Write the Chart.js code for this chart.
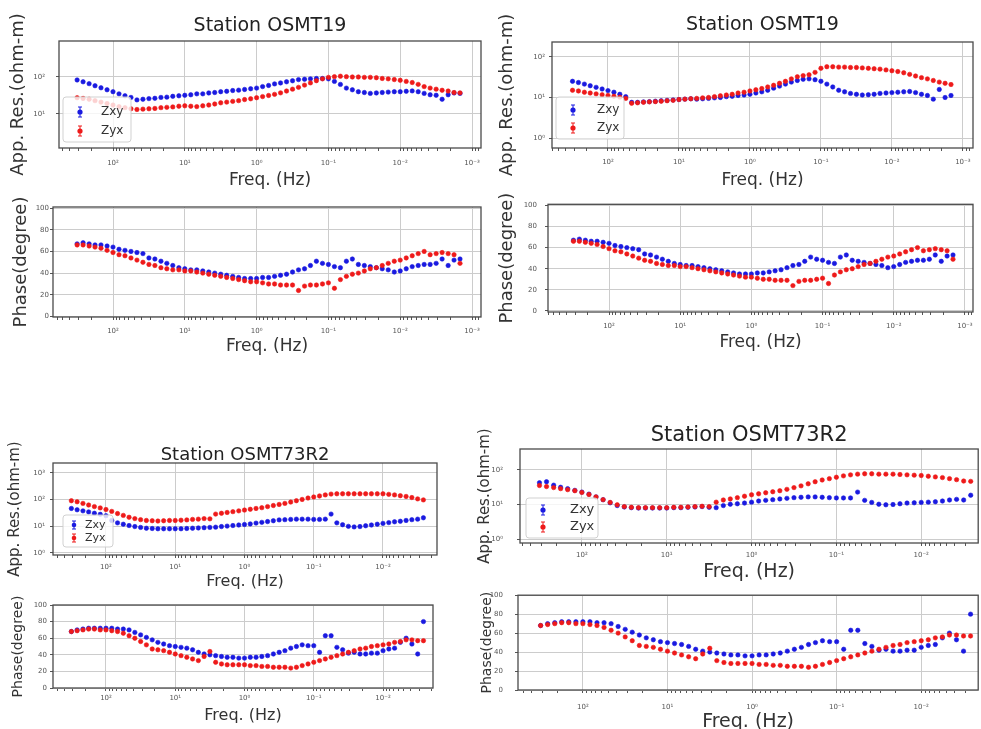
<!DOCTYPE html>
<html><head><meta charset="utf-8">
<script src="https://cdn.jsdelivr.net/npm/chart.js@4.4.1/dist/chart.umd.min.js"></script>
<style>
html,body{margin:0;padding:0;background:#fff;overflow:hidden;width:981px;height:729px;position:relative;}
canvas{position:absolute;}
</style></head><body>
<script>
// ---------------- DATA ----------------
const stationNames = ['Station OSMT19', 'Station OSMT73R2'];
const seriesNames = ['Zxy', 'Zyx'];

const freqTicks = [1000, 100, 10, 1, 0.1, 0.01, 0.001];
const freqTickLabels = ['10³', '10²', '10¹', '10⁰', '10⁻¹', '10⁻²', '10⁻³'];
const resTicks = [1, 10, 100, 1000];
const resTickLabels = ['10⁰', '10¹', '10²', '10³'];
const phaseTicks = [0, 20, 40, 60, 80, 100];
const phaseTickLabels = ['0', '20', '40', '60', '80', '100'];

// Frequencies (Hz)
const freqOSMT19 = [316, 261, 215, 178, 147, 121,
  100, 82.5, 68.1, 56.2, 46.4, 38.3, 31.6, 26.1, 21.5, 17.8, 14.7, 12.1,
  10, 8.25, 6.81, 5.62, 4.64, 3.83, 3.16, 2.61, 2.15, 1.78, 1.47, 1.21,
  1, 0.825, 0.681, 0.562, 0.464, 0.383, 0.316, 0.261, 0.215, 0.178, 0.147, 0.121,
  0.1, 0.0825, 0.0681, 0.0562, 0.0464, 0.0383, 0.0316, 0.0261, 0.0215, 0.0178, 0.0147, 0.0121,
  0.01, 0.00825, 0.00681, 0.00562, 0.00464, 0.00383, 0.00316, 0.00261, 0.00215, 0.00178, 0.00147];
const freqOSMT73R2 = [316, 261, 215, 178, 147, 121,
  100, 82.5, 68.1, 56.2, 46.4, 38.3, 31.6, 26.1, 21.5, 17.8, 14.7, 12.1,
  10, 8.25, 6.81, 5.62, 4.64, 3.83, 3.16, 2.61, 2.15, 1.78, 1.47, 1.21,
  1, 0.825, 0.681, 0.562, 0.464, 0.383, 0.316, 0.261, 0.215, 0.178, 0.147, 0.121,
  0.1, 0.0825, 0.0681, 0.0562, 0.0464, 0.0383, 0.0316, 0.0261, 0.0215, 0.0178, 0.0147, 0.0121,
  0.01, 0.00825, 0.00681, 0.00562, 0.00464, 0.00383, 0.00316, 0.00261];

// OSMT19 apparent resistivity, left figure (ohm-m)
const rhoXY_19a = [83, 74, 66, 58, 51, 45, 40, 35, 31, 28, 24,
  25, 26, 26.5, 28, 28.5, 30, 31, 32, 33, 35, 35, 37, 38, 40, 41, 43, 44, 46, 48, 50,
  55, 59, 65, 69, 74, 79, 85, 87, 89, 91, 91, 89, 76, 63, 50, 45, 40, 38, 36, 37,
  38, 39, 40, 40, 41, 42, 40, 36, 33, 32, 25, 33, 37, 36];
const rhoYX_19a = [27.5, 26.3, 25.1, 22.9, 20.9, 19.1, 17.4, 15.8, 14.8, 13.8,
  13.2, 13.5, 13.8, 14.1, 14.8, 15.1, 15.5, 16.2, 16.6, 16.2,
  15.8, 16.6, 17.4, 18.6, 20, 20.9, 21.9, 22.9, 24.5, 25.7,
  27.5, 29.5, 31.6, 33.9, 37.2, 41.7, 46.8, 52.5, 60.3, 69.2,
  79.4, 89.1, 97.7, 102, 105, 102, 100, 100, 97.7, 97.7,
  95.5, 91.2, 89.1, 85.1, 81.3, 75.9, 70.8, 63.1, 55, 50.1,
  46.8, 43.7, 41.7, 38, 37.2];
// OSMT19 apparent resistivity, right figure (ohm-m)
const rhoXY_19b = [25.1, 23.4, 21.4, 19.5, 17.8, 16.2, 14.8, 13.5, 12.0, 10.5,
  7.6, 7.6, 7.8, 7.9, 8.1, 8.3, 8.5, 8.7, 8.9, 9.1,
  9.3, 9.1, 9.3, 9.5, 9.8, 10, 10.5, 10.7, 11.2, 11.5,
  12.0, 12.9, 13.8, 15.1, 17.0, 19.1, 21.4, 24.0, 26.3, 28.2,
  28.8, 27.5, 25.1, 21.4, 18.2, 15.1, 13.8, 12.6, 12.0, 11.5,
  11.7, 12.0, 12.6, 12.9, 13.2, 13.5, 13.8, 14.1, 13.2, 12.0,
  11.2, 9.1, 15.8, 10, 11.2];
const rhoYX_19b = [15.1, 14.5, 13.5, 12.9, 12.3, 11.7, 11.2, 10.7, 10.2, 9.5,
  7.2, 7.4, 7.6, 7.8, 7.9, 8.1, 8.3, 8.5, 8.9, 9.1,
  9.3, 9.5, 9.8, 10, 10.5, 11.0, 11.5, 12.0, 12.9, 13.5,
  14.5, 15.5, 16.6, 18.2, 20, 22.4, 25.1, 28.8, 32.4, 34.7,
  36.3, 41.7, 52.5, 57.5, 57.5, 56.2, 56.2, 55.0, 55.0, 53.7,
  52.5, 51.3, 50.1, 47.9, 45.7, 43.7, 40.7, 37.2, 33.9, 30.9,
  28.8, 26.3, 24.0, 22.4, 20.9];
// OSMT19 phase (degree)
const phiXY_19 = [67, 68, 67, 66, 66, 65, 64, 62, 61, 60,
  59, 58, 54, 53, 51, 49, 47, 45, 44, 43,
  43, 42, 41, 40, 39, 38, 37, 36, 35, 35,
  35, 36, 36, 37, 38, 39, 41, 43, 44, 47,
  51, 49, 48, 46, 45, 51, 53, 48, 47, 46,
  45, 44, 43, 41, 42, 44, 46, 47, 48, 48,
  49, 53, 47, 52, 53];
const phiYX_19 = [66, 66, 65, 64, 63, 61, 59, 57, 56, 54,
  52, 50, 48, 47, 45, 44, 43, 43, 42, 42,
  41, 40, 39, 38, 37, 36, 35, 34, 33, 32,
  32, 31, 30, 30, 29, 29, 29, 24, 28, 29,
  29, 30, 31, 26, 34, 37, 39, 40, 42, 44,
  45, 47, 49, 51, 52, 54, 56, 58, 60, 57,
  58, 59, 58, 57, 49];

// OSMT73R2 apparent resistivity, left figure (ohm-m)
const rhoXY_73a = [46.8, 41.7, 38.0, 34.7, 30.9, 28.2, 25.1, 16.6, 13.5, 12.0,
  10.7, 9.8, 9.1, 8.5, 8.3, 8.1, 8.1, 8.1, 8.1, 8.1,
  8.3, 8.5, 8.7, 8.9, 9.1, 9.3, 9.8, 10.2, 10.7, 11.2,
  11.7, 12.3, 13.2, 14.1, 15.1, 16.2, 17.4, 17.8, 18.2, 18.6,
  18.6, 18.6, 18.2, 18.2, 18.6, 28.8, 13.5, 11.5, 10, 9.5,
  9.8, 10.5, 11.2, 12.0, 12.9, 13.8, 14.8, 15.5, 16.6, 17.8,
  18.6, 20.9];
const rhoYX_73a = [91.2, 83.2, 72.4, 63.1, 55.0, 49.0, 42.7, 36.3, 30.2, 25.7,
  21.9, 19.5, 17.8, 16.6, 16.2, 15.8, 16.2, 16.6, 16.6, 17.0,
  17.4, 18.2, 18.6, 19.5, 19.1, 28.8, 30.9, 33.1, 35.5, 38.0,
  40.7, 43.7, 46.8, 50.1, 55.0, 60.3, 66.1, 72.4, 81.3, 91.2,
  102, 115, 126, 138, 151, 162, 166, 166, 166, 166,
  166, 166, 166, 166, 166, 158, 151, 141, 132, 120,
  107, 98];
// OSMT73R2 apparent resistivity, right figure (ohm-m)
const rhoXY_73b = [42.7, 45.7, 36.3, 31.6, 28.8, 25.7, 22.9, 20.0, 16.6, 13.8,
  11.2, 9.3, 8.5, 8.1, 7.9, 7.9, 7.9, 7.9, 7.9, 8.1,
  8.1, 8.3, 8.5, 8.7, 8.3, 8.1, 9.3, 10.2, 10.5, 11.0,
  11.7, 12.6, 13.2, 13.8, 14.5, 15.1, 15.8, 16.2, 16.6, 16.6,
  16.2, 15.8, 15.5, 15.5, 15.5, 22.9, 13.2, 11.5, 10.2, 9.8,
  10, 10.5, 11.0, 11.2, 11.5, 11.7, 12.0, 12.6, 13.5, 14.1,
  13.5, 18.6];
const rhoYX_73b = [35.5, 33.1, 30.9, 28.8, 26.9, 25.1, 22.4, 19.5, 16.6, 13.8,
  11.5, 9.8, 8.7, 8.3, 8.1, 8.1, 8.1, 8.1, 8.1, 8.3,
  8.3, 8.5, 8.7, 8.9, 8.7, 11.7, 13.5, 14.5, 15.8, 17.4,
  19.1, 20.4, 21.9, 23.4, 25.1, 27.5, 30.9, 34.7, 39.8, 45.7,
  51.3, 56.2, 61.7, 67.6, 72.4, 75.9, 77.6, 77.6, 75.9, 75.9,
  75.9, 74.1, 72.4, 70.8, 69.2, 66.1, 63.1, 60.3, 56.2, 52.5,
  47.9, 46.8];
// OSMT73R2 phase (degree)
const phiXY_73 = [68, 70, 71, 72, 72, 72, 72, 72, 71, 71, 70,
  67, 64, 61, 58, 55, 53, 51, 50, 49, 48, 46,
  43, 41, 40, 39, 38, 37, 37, 36, 36, 37, 37,
  38, 39, 41, 43, 45, 48, 50, 52, 51, 51, 43,
  63, 63, 49, 46, 42, 43, 41, 41, 42, 42, 45,
  47, 48, 55, 60, 53, 41, 80];
const phiYX_73 = [68, 69, 70, 71, 71, 70, 70, 69, 68, 66, 63,
  60, 56, 52, 47, 46, 45, 43, 41, 39, 37, 35,
  33, 38, 44, 31, 29, 28, 28, 28, 28, 27, 27,
  26, 26, 25, 25, 25, 24, 25, 27, 29, 31, 33,
  35, 37, 39, 41, 43, 45, 47, 48, 50, 51, 52,
  53, 55, 56, 58, 58, 57, 57];

// ---------------- DRAWING ----------------
const FONT = "'DejaVu Sans', 'Liberation Sans', sans-serif";
const COLORS = ['#1a1ae0', '#ee1a1a'];
const GRID = '#cccccc';

function sameLog(a, b) { return Math.abs(Math.log10(a) - Math.log10(b)) < 1e-6; }
function labelFrom(v, values, labels) {
  const i = values.findIndex(t => sameLog(t, v));
  return i >= 0 ? labels[i] : '';
}
function isPow10(v) { const l = Math.log10(v); return Math.abs(l - Math.round(l)) < 1e-6; }
function logTickSet(min, max) {
  const out = [];
  const d0 = Math.floor(Math.log10(min)), d1 = Math.ceil(Math.log10(max));
  for (let d = d0; d <= d1; d++) {
    const base = Math.pow(10, d);
    for (let m = 1; m <= 9; m++) {
      const v = m * base;
      if (v >= min && v <= max) out.push({ value: v, major: m === 1 });
    }
  }
  return out;
}

const decoPlugin = {
  id: 'panelDeco',
  afterDatasetsDraw(chart, args, o) {
    const ctx = chart.ctx, a = chart.chartArea;
    ctx.save();
    ctx.strokeStyle = '#4a4a4a'; ctx.lineWidth = 1.3;
    ctx.strokeRect(a.left, a.top, a.right - a.left, a.bottom - a.top);
    const L = o && o.legend;
    if (L) {
      ctx.fillStyle = 'rgba(255,255,255,0.8)';
      ctx.strokeStyle = 'rgba(204,204,204,0.9)'; ctx.lineWidth = 1;
      ctx.beginPath();
      if (ctx.roundRect) ctx.roundRect(L.x, L.y, L.w, L.h, 3); else ctx.rect(L.x, L.y, L.w, L.h);
      ctx.fill(); ctx.stroke();
      chart.data.datasets.forEach((ds, i) => {
        const cy = L.rows[i], mx = L.mx, e = L.eb;
        ctx.strokeStyle = ds.pointBackgroundColor; ctx.fillStyle = ds.pointBackgroundColor; ctx.lineWidth = 1;
        ctx.beginPath();
        ctx.moveTo(mx, cy - e); ctx.lineTo(mx, cy + e);
        ctx.moveTo(mx - 2, cy - e); ctx.lineTo(mx + 2, cy - e);
        ctx.moveTo(mx - 2, cy + e); ctx.lineTo(mx + 2, cy + e);
        ctx.stroke();
        ctx.beginPath(); ctx.arc(mx, cy, L.r, 0, Math.PI * 2); ctx.fill();
        ctx.fillStyle = '#333'; ctx.font = L.size + 'px ' + FONT;
        ctx.textBaseline = 'middle'; ctx.textAlign = 'left';
        ctx.fillText(ds.label, L.tx, cy);
      });
    }
    ctx.restore();
  }
};
Chart.register(decoPlugin);

function makePanel(p) {
  const cv = document.createElement('canvas');
  cv.width = p.w; cv.height = p.h;
  cv.style.left = p.left + 'px'; cv.style.top = p.top + 'px';
  cv.style.width = p.w + 'px'; cv.style.height = p.h + 'px';
  document.body.appendChild(cv);

  const datasets = p.series.map((s, i) => ({
    label: seriesNames[i],
    data: p.freq.map((f, j) => ({ x: f, y: s[j] })),
    pointRadius: 2.2, pointHoverRadius: 2.2,
    pointBackgroundColor: COLORS[i], pointBorderColor: COLORS[i], pointBorderWidth: 0.6,
    showLine: false, order: i === 0 ? 1 : 0
  }));

  let legend = null;
  if (p.legend) {
    const g = p.legend;
    legend = { x: g.x - p.left, y: g.y - p.top, w: g.w, h: g.h, mx: g.mx - p.left, tx: g.tx - p.left,
      rows: g.rows.map(r => r - p.top), size: g.size, eb: g.eb || 5, r: g.r || 2.6 };
  }

  const tickFont = { family: FONT, size: 7 };
  const yScale = p.yLog ? {
    type: 'logarithmic', min: p.yMin, max: p.yMax,
    afterBuildTicks: s => { s.ticks = resTicks.filter(v => v >= p.yMin && v <= p.yMax).map(v => ({ value: v, major: true })); },
    ticks: { autoSkip: false, font: tickFont, color: '#555', padding: p.yTickPad,
      callback: v => labelFrom(v, resTicks, resTickLabels) }
  } : {
    type: 'linear', min: p.yMin, max: p.yMax,
    afterBuildTicks: s => { s.ticks = phaseTicks.map(v => ({ value: v, major: true })); },
    ticks: { autoSkip: false, font: tickFont, color: '#555', padding: p.yTickPad,
      callback: v => { const i = phaseTicks.indexOf(v); return i >= 0 ? phaseTickLabels[i] : ''; } }
  };
  Object.assign(yScale, {
    position: 'left',
    afterFit: s => { s.width = p.yW; },
    grid: { color: GRID, lineWidth: 1, tickColor: '#555', tickLength: 3 },
    border: { display: false },
    title: { display: true, text: p.yTitle, color: '#333',
      font: { family: FONT, size: p.yTitleSize, lineHeight: 1.2 }, padding: { top: p.yTitlePT, bottom: 0 } }
  });

  new Chart(cv, {
    type: 'scatter',
    data: { datasets },
    options: {
      responsive: false, animation: false, devicePixelRatio: 1,
      events: [],
      layout: { padding: { top: p.padTop, right: p.padRight, left: 0, bottom: 0 } },
      plugins: {
        legend: { display: false },
        tooltip: { enabled: false },
        title: p.title ? {
          display: true, text: p.title, color: '#222', fullSize: false,
          font: { family: FONT, size: p.titleSize, weight: 'normal', lineHeight: p.titleLH },
          padding: { top: p.titlePT, bottom: p.titlePB }
        } : { display: false },
        panelDeco: { legend }
      },
      scales: {
        x: {
          type: 'logarithmic', reverse: true, min: p.xMin, max: p.xMax, position: 'bottom',
          afterBuildTicks: s => { s.ticks = logTickSet(p.xMin, p.xMax); },
          afterFit: s => { s.height = p.xH; },
          grid: {
            color: c => (c.tick && isPow10(c.tick.value)) ? GRID : 'rgba(0,0,0,0)',
            tickColor: '#555', tickLength: 3, lineWidth: 1
          },
          border: { display: false },
          ticks: { autoSkip: false, maxRotation: 0, minRotation: 0, font: tickFont, color: '#555',
            padding: p.xTickPad, callback: v => labelFrom(v, freqTicks, freqTickLabels) },
          title: { display: true, text: 'Freq. (Hz)', color: '#333',
            font: { family: FONT, size: p.xTitleSize, lineHeight: 1.2 }, padding: { top: 0, bottom: p.xTitlePB } }
        },
        y: yScale
      }
    }
  });
}

const panels = [
  { left: 0, top: 0, w: 490, h: 192, padTop: 0, padRight: 9, yW: 59, xH: 44,
    title: stationNames[0], titleSize: 19, titleLH: 1.2, titlePT: 14.6, titlePB: 3.6,
    yTitle: 'App. Res.(ohm-m)', yTitleSize: 18, yTitlePT: 7.2, xTitleSize: 17, xTitlePB: 0.8,
    xMin: 7.5e-4, xMax: 565, yLog: true, yMin: 1.2, yMax: 940, xTickPad: 8, yTickPad: 11,
    freq: freqOSMT19, series: [rhoXY_19a, rhoYX_19a],
    legend: { x: 63, y: 97, w: 68, h: 45, mx: 80, tx: 101, rows: [112, 131], size: 12 } },
  { left: 0, top: 195, w: 490, h: 165, padTop: 12, padRight: 9, yW: 53, xH: 43,
    yTitle: 'Phase(degree)', yTitleSize: 18, yTitlePT: 10.2, xTitleSize: 17, xTitlePB: 2.8,
    xMin: 7.5e-4, xMax: 685, yLog: false, yMin: -0.5, yMax: 101, xTickPad: 7, yTickPad: 1,
    freq: freqOSMT19, series: [phiXY_19, phiYX_19] },
  { left: 490, top: 0, w: 491, h: 192, padTop: 0, padRight: 8, yW: 62, xH: 44,
    title: stationNames[0], titleSize: 19, titleLH: 1.2, titlePT: 13.6, titlePB: 5.6,
    yTitle: 'App. Res.(ohm-m)', yTitleSize: 18, yTitlePT: 6.2, xTitleSize: 17, xTitlePB: 0.8,
    xMin: 7.2e-4, xMax: 615, yLog: true, yMin: 0.567, yMax: 234, xTickPad: 7, yTickPad: 4,
    freq: freqOSMT19, series: [rhoXY_19b, rhoYX_19b],
    legend: { x: 556, y: 97, w: 68, h: 42, mx: 573, tx: 597, rows: [110, 128], size: 12 } },
  { left: 490, top: 192, w: 491, h: 168, padTop: 12.3, padRight: 8, yW: 58, xH: 48,
    yTitle: 'Phase(degree)', yTitleSize: 18, yTitlePT: 6.2, xTitleSize: 17, xTitlePB: 6.8,
    xMin: 7.7e-4, xMax: 720, yLog: false, yMin: -1, yMax: 101, xTickPad: 7, yTickPad: 8,
    freq: freqOSMT19, series: [phiXY_19, phiYX_19] },
  { left: 0, top: 428, w: 490, h: 165, padTop: 0, padRight: 53, yW: 53, xH: 38,
    title: stationNames[1], titleSize: 18, titleLH: 0.85, titlePT: 19.35, titlePB: 0.35,
    yTitle: 'App. Res.(ohm-m)', yTitleSize: 15, yTitlePT: 6, xTitleSize: 16, xTitlePB: 1.4,
    xMin: 1.66e-3, xMax: 582, yLog: true, yMin: 0.841, yMax: 2371, xTickPad: 5, yTickPad: 5,
    freq: freqOSMT73R2, series: [rhoXY_73a, rhoYX_73a],
    legend: { x: 63, y: 515, w: 50, h: 32, mx: 74, tx: 85, rows: [525, 538], size: 11, eb: 4, r: 2.3 } },
  { left: 0, top: 593, w: 490, h: 136, padTop: 12, padRight: 57, yW: 53, xH: 41,
    yTitle: 'Phase(degree)', yTitleSize: 14, yTitlePT: 9.6, xTitleSize: 16, xTitlePB: 3.4,
    xMin: 1.9e-3, xMax: 582, yLog: false, yMin: 0, yMax: 100, xTickPad: 3, yTickPad: 3,
    freq: freqOSMT73R2, series: [phiXY_73, phiYX_73] },
  { left: 470, top: 420, w: 511, h: 165, padTop: 0, padRight: 2, yW: 50, xH: 42,
    title: stationNames[1], titleSize: 21, titleLH: 1, titlePT: 5.5, titlePB: 2.5,
    yTitle: 'App. Res.(ohm-m)', yTitleSize: 15, yTitlePT: 6, xTitleSize: 19, xTitlePB: 1.6,
    xMin: 2.13e-3, xMax: 536, yLog: true, yMin: 0.766, yMax: 406, xTickPad: 5, yTickPad: 14,
    freq: freqOSMT73R2, series: [rhoXY_73b, rhoYX_73b],
    legend: { x: 526, y: 498, w: 72, h: 40, mx: 543, tx: 570, rows: [510, 527], size: 13 } },
  { left: 470, top: 579, w: 511, h: 150, padTop: 16.2, padRight: 2, yW: 48, xH: 39,
    yTitle: 'Phase(degree)', yTitleSize: 14, yTitlePT: 8.6, xTitleSize: 19, xTitlePB: -4.4,
    xMin: 2.12e-3, xMax: 585, yLog: false, yMin: 0, yMax: 100, xTickPad: 10, yTickPad: 12,
    freq: freqOSMT73R2, series: [phiXY_73, phiYX_73] }
];

panels.forEach(makePanel);
</script>
</body></html>
